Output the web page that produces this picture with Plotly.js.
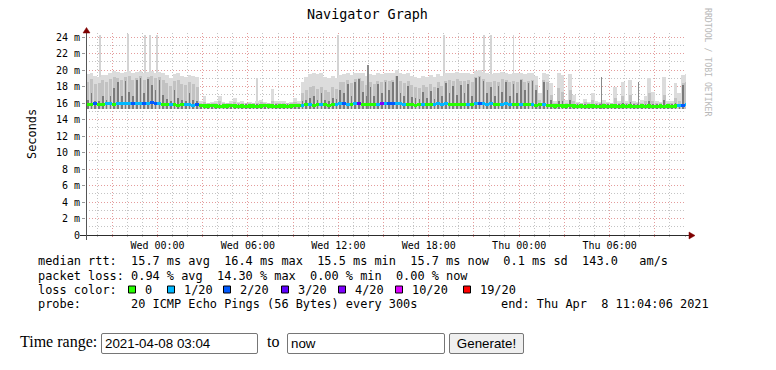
<!DOCTYPE html>
<html><head><meta charset="utf-8">
<script src="https://cdn.plot.ly/plotly-3.0.1.min.js"></script>
<style>
body{margin:0;background:#fff;width:776px;height:370px;overflow:hidden;position:relative;}
#chart{position:absolute;left:0;top:0;width:776px;height:320px;}
.lbl{position:absolute;font-family:"Liberation Serif","Times New Roman",serif;font-size:16px;line-height:21px;color:#000;}
input.t{position:absolute;box-sizing:border-box;height:21px;border:1px solid #767676;border-radius:2px;padding:1px 3px;font-family:"Liberation Sans",Arial,sans-serif;font-size:13.33px;color:#000;background:#fff;margin:0;}
button.g{position:absolute;box-sizing:border-box;height:21px;border:1px solid #767676;border-radius:2px;background:#efefef;font-family:"Liberation Sans",Arial,sans-serif;font-size:13.33px;color:#000;padding:1px 6px;margin:0;}
</style></head>
<body>
<div id="chart"></div>
<div class="lbl" style="left:20px;top:331px;">Time range:</div>
<input class="t" style="left:101px;top:333px;width:157px;" value="2021-04-08 03:04">
<div class="lbl" style="left:267px;top:331px;">to</div>
<input class="t" style="left:287px;top:333px;width:158px;" value="now">
<button class="g" style="left:449px;top:333px;width:75px;">Generate!</button>
<script>
// ---- data (15-minute bins starting Tue 2021-04-06 19:15) ----
const binStart = '2021-04-06 19:15';
const smokeBase = 15.3;
const smokeMax = [
 19.5,19.6,19.3,19.2,19.4,19.4,19.6,19.9,19.8,19.7,19.8,19.9,19.7,19.8,19.9,19.6,19.8,19.9,19.7,19.8,
 19.6,19.4,19.1,19.5,19.6,19.3,19.2,19.4,19.3,19.2,16.2,16.8,16.0,16.1,16.2,16.9,16.1,16.0,16.3,16.6,
 16.1,16.2,16.0,16.1,16.0,16.3,16.4,16.1,16.0,17.7,16.2,16.2,16.2,16.0,16.1,16.6,16.3,18.6,19.2,19.5,
 19.6,19.5,19.6,19.2,19.0,19.3,19.1,19.4,19.5,19.6,19.4,19.6,19.7,19.6,19.3,19.5,19.4,19.6,19.5,19.7,
 19.6,19.7,20.0,19.6,19.5,19.6,19.3,19.2,19.1,19.3,19.2,19.4,19.2,19.5,19.3,19.6,19.7,19.6,19.8,19.7,
 19.6,19.7,19.5,19.9,20.0,19.8,19.6,19.5,19.7,19.6,19.8,19.7,19.5,19.6,19.6,19.7,19.5,19.6,19.7,19.3,
 17.2,19.6,19.5,18.4,16.2,19.6,19.4,16.4,19.5,17.0,16.1,16.0,16.5,16.1,17.2,16.2,16.1,16.4,16.1,16.0,
 18.0,16.2,18.6,16.3,18.8,16.2,16.1,16.4,16.9,19.1,17.4,16.2,16.1,19.2,16.3,16.2,18.4,17.2,19.4,19.5];
const smokeMid = [
 18.6,18.9,18.3,18.4,18.8,18.5,18.9,19.2,19.1,18.8,19.2,19.3,18.8,19.1,19.3,18.8,19.2,19.3,19.0,19.2,
 18.8,18.4,18.1,18.7,18.8,18.3,18.2,18.6,18.3,18.0,15.95,16.1,15.95,15.95,15.95,16.2,15.95,15.95,16.0,16.1,
 15.95,16.0,15.95,15.95,15.95,16.0,16.1,15.95,15.95,16.3,16.0,16.0,16.0,15.95,15.95,16.1,16.0,17.2,17.6,17.9,
 18.1,17.7,18.0,17.6,17.4,17.9,17.7,18.5,18.6,18.8,18.4,18.9,19.0,18.7,18.2,18.5,18.3,18.7,18.5,18.8,
 18.7,18.8,19.3,18.7,18.4,18.7,18.2,18.0,17.8,18.2,18.0,18.3,17.9,18.5,18.1,18.7,18.8,18.7,18.9,18.7,
 18.7,18.8,18.5,19.2,19.3,18.9,18.6,18.5,18.7,18.6,18.9,18.8,18.5,18.7,18.6,18.9,18.5,18.7,18.8,18.2,
 16.4,18.8,18.5,17.0,15.95,17.8,17.4,15.95,17.6,16.2,15.95,15.95,16.1,15.95,16.4,15.95,15.95,16.0,15.95,15.95,
 16.6,15.95,16.8,15.95,17.0,15.95,15.95,16.0,16.2,17.2,16.3,15.95,15.95,17.0,15.95,15.95,16.6,16.2,18.4,18.6];
const smokeDark = [
 16.4,17.2,16.2,16.3,16.8,16.4,16.9,17.8,18.6,16.8,18.7,17.4,16.9,18.8,19.0,17.2,18.9,18.2,17.6,18.8,
 17.0,16.5,16.3,17.6,16.6,16.4,16.3,17.2,16.4,16.2,15.85,15.85,15.85,15.85,15.85,15.85,15.85,15.85,15.85,15.85,
 15.85,15.85,15.85,15.85,15.85,15.85,15.85,15.85,15.85,15.85,15.85,15.85,15.85,15.85,15.85,15.85,15.85,16.2,16.4,16.6,
 16.8,16.4,17.2,16.4,16.3,16.6,16.5,17.6,17.2,18.3,16.9,18.6,18.9,17.4,16.8,17.9,16.9,18.3,17.2,18.5,
 17.6,18.6,19.3,17.2,16.8,18.1,16.7,16.6,16.5,17.3,16.6,17.5,16.5,17.8,16.8,18.4,17.2,18.1,17.0,18.2,
 17.2,18.3,16.9,19.0,19.2,18.7,17.2,17.9,16.9,18.1,17.4,18.5,16.9,18.3,17.2,18.8,17.6,18.4,18.7,17.6,
 16.0,18.5,17.6,16.4,15.85,16.3,16.2,15.85,16.4,15.9,15.85,15.85,15.85,15.85,15.85,15.85,15.85,15.85,15.85,15.85,
 15.9,15.85,16.0,15.85,16.1,15.85,15.85,15.85,15.85,16.2,15.9,15.85,15.85,16.4,15.85,15.85,16.0,15.9,18.2,17.6];
const medianRtt = [
 15.85,15.8,15.9,15.8,15.85,15.9,15.95,15.85,15.9,15.95,15.9,15.95,16.0,15.9,15.95,16.0,15.95,16.05,16.0,15.9,
 15.85,15.8,15.85,15.8,15.75,15.8,15.85,15.8,15.75,15.8,15.7,15.65,15.65,15.7,15.65,15.6,15.65,15.65,15.7,15.65,
 15.6,15.65,15.6,15.65,15.65,15.6,15.65,15.7,15.65,15.65,15.6,15.65,15.65,15.6,15.65,15.7,15.7,15.75,15.8,15.8,
 15.75,15.8,15.85,15.8,15.75,15.8,15.85,15.9,15.95,15.85,15.8,15.9,16.0,15.85,15.8,15.85,15.8,15.85,15.95,15.9,
 16.0,16.0,15.9,15.9,15.85,15.8,15.8,15.75,15.8,15.85,15.8,15.8,15.85,15.9,15.85,15.9,15.8,15.8,15.85,15.8,
 15.8,15.85,15.8,15.9,15.95,15.9,15.85,15.9,15.8,15.8,15.85,15.9,15.85,15.8,15.8,15.85,15.8,15.8,15.85,15.75,
 15.8,15.85,15.75,15.7,15.65,15.7,15.65,15.65,15.7,15.65,15.6,15.65,15.6,15.65,15.65,15.6,15.6,15.65,15.6,15.65,
 15.65,15.6,15.65,15.6,15.65,15.6,15.6,15.65,15.6,15.65,15.6,15.6,15.65,15.6,15.65,15.6,15.65,15.7,15.75,15.8];
// loss class per bin: index into lossLabels/lossColors
const lossClass = [
 0,0,2,0,0,1,1,0,1,1,1,1,2,1,1,2,1,2,2,1,
 0,0,1,0,0,0,1,1,1,2,0,0,0,0,0,0,0,0,0,0,
 0,0,0,0,0,0,0,0,0,0,0,0,0,0,0,0,0,1,0,1,
 0,0,1,0,0,0,1,1,2,1,0,1,3,0,0,0,0,1,4,1,
 2,2,1,1,1,0,0,0,0,1,0,0,1,1,1,1,0,0,0,0,
 0,1,0,1,2,1,1,1,0,0,1,1,1,0,0,1,0,0,1,0,
 0,1,0,0,0,0,0,0,0,0,0,0,0,0,0,0,0,0,0,0,
 0,0,0,0,0,0,0,0,0,0,0,0,0,0,0,0,0,1,2,1];
// isolated outlier spikes
const lightSpikeTimes = ['2021-04-06 20:11','2021-04-06 22:03','2021-04-06 23:10','2021-04-06 23:30','2021-04-06 23:58',
  '2021-04-07 06:36','2021-04-07 11:58','2021-04-07 19:00','2021-04-07 21:41','2021-04-07 22:09','2021-04-07 23:37'];
const lightSpikeTops = [24.2,24.4,24.2,24.2,24.3,19.0,24.3,24.2,24.3,24.3,24.2];
const darkSpikeTimes = ['2021-04-07 13:58','2021-04-08 05:27','2021-04-08 07:54'];
const darkSpikeTops = [20.6,19.2,18.6];

const lossLabels = ['0','1/20','2/20','3/20','4/20','10/20','19/20'];
const lossColors = ['#26ff00','#00b8ff','#0059ff','#5e00ff','#7e00ff','#dd00ff','#ff0000'];

const yTickVals = [0,2,4,6,8,10,12,14,16,18,20,22,24];
const yTickLabels = ['0','2 m','4 m','6 m','8 m','10 m','12 m','14 m','16 m','18 m','20 m','22 m','24 m'];
const xLabelTimes = ['2021-04-07 00:00','2021-04-07 06:00','2021-04-07 12:00','2021-04-07 18:00','2021-04-08 00:00','2021-04-08 06:00'];
const xLabels = ['Wed 00:00','Wed 06:00','Wed 12:00','Wed 18:00','Thu 00:00','Thu 06:00'];
const xRange = ['2021-04-06 19:15:30','2021-04-08 11:04'];

const statLines = [
 'median rtt:  15.7 ms avg  16.4 ms max  15.5 ms min  15.7 ms now  0.1 ms sd  143.0   am/s',
 'packet loss: 0.94 % avg  14.30 % max  0.00 % min  0.00 % now'];
const lossTitle = 'loss color:';
const probeLine = 'probe:       20 ICMP Echo Pings (56 Bytes) every 300s';
const endLine = 'end: Thu Apr  8 11:04:06 2021';

// ---- build ----
const toStr = ms => new Date(ms).toISOString().slice(0,19).replace('T',' ');
const t0 = Date.parse(binStart.replace(' ','T')+':00Z');
const BIN = 15*60*1000;
const binTimes = smokeMax.map((_,i)=>toStr(t0 + (i+0.5)*BIN));

// 3-hourly major ticks, labels every 6 h
const tickVals=[], tickText=[];
for(let ms=Date.parse('2021-04-06T21:00:00Z'); ms<=Date.parse('2021-04-08T11:00:00Z'); ms+=3*3600000){
  const s = toStr(ms).slice(0,16);
  tickVals.push(s);
  const k = xLabelTimes.indexOf(s);
  tickText.push(k>=0 ? xLabels[k] : '');
}

const L=86,R=686,T=33,B=235;
const px2x = p => (p-L)/(R-L);
const py2y = p => (B-p)/(B-T);
const nb = s => s.replace(/ /g,'\u00a0');
const MONO = 'DejaVu Sans Mono, monospace';

const hgt = (arr)=>arr.map(v=>v-smokeBase);
const traces = [
 {type:'bar',x:lightSpikeTimes,y:hgt(lightSpikeTops),base:smokeBase,width:420000,marker:{color:'#d4d4d4',line:{width:0}},hoverinfo:'skip'},
 {type:'bar',x:binTimes,y:hgt(smokeMax),base:smokeBase,width:BIN,marker:{color:'#dcdcdc',line:{width:0}},hoverinfo:'skip'},
 {type:'bar',x:binTimes,y:hgt(smokeMid),base:smokeBase,width:BIN*0.8,marker:{color:'#c2c2c2',line:{width:0}},hoverinfo:'skip'},
 {type:'bar',x:binTimes,y:hgt(smokeDark),base:smokeBase,width:BIN*0.45,marker:{color:'#7a7a7a',line:{width:0}},hoverinfo:'skip'},
 {type:'bar',x:darkSpikeTimes,y:hgt(darkSpikeTops),base:smokeBase,width:300000,marker:{color:'#8a8a8a',line:{width:0}},hoverinfo:'skip'},
 {type:'bar',x:binTimes,y:medianRtt.map(()=>0.38),base:medianRtt.map(v=>v-0.19),width:BIN,
  marker:{color:lossClass.map(k=>lossColors[k]),line:{width:0}},hoverinfo:'skip'}
];

const annotations = [
 {text:'Navigator Graph',x:px2x(367.5),y:py2y(15),font:{family:MONO,size:13.4,color:'#000'}},
 {text:'Seconds',x:px2x(32),y:py2y(134),textangle:-90,font:{family:MONO,size:11.9,color:'#000'}},
 {text:'RRDTOOL / TOBI OETIKER',x:px2x(708),y:py2y(62),textangle:90,font:{family:MONO,size:8.2,color:'#b8b8b8'}},
 {text:nb(statLines[0]),x:px2x(36),y:py2y(261),xanchor:'left',font:{family:MONO,size:11.9,color:'#000'}},
 {text:nb(statLines[1]),x:px2x(36),y:py2y(275.5),xanchor:'left',font:{family:MONO,size:11.9,color:'#000'}},
 {text:nb(lossTitle),x:px2x(36),y:py2y(289.5),xanchor:'left',font:{family:MONO,size:11.9,color:'#000'}},
 {text:nb(probeLine),x:px2x(36),y:py2y(303.5),xanchor:'left',font:{family:MONO,size:11.9,color:'#000'}},
 {text:nb(endLine),x:px2x(499),y:py2y(303.5),xanchor:'left',font:{family:MONO,size:11.9,color:'#000'}}
].map(a=>Object.assign({xref:'paper',yref:'paper',showarrow:false,xanchor:'center',yanchor:'middle'},a));

const boxLeft = [128,167,223,281,338,395,463];
const shapes = [];
lossLabels.forEach((lab,i)=>{
  shapes.push({type:'rect',xref:'paper',yref:'paper',x0:px2x(boxLeft[i]+0.5),x1:px2x(boxLeft[i]+7.5),
    y0:py2y(293),y1:py2y(286),fillcolor:lossColors[i],line:{color:'#000',width:1}});
  annotations.push({xref:'paper',yref:'paper',showarrow:false,xanchor:'left',yanchor:'middle',
    text:lab,x:px2x(boxLeft[i]+14.5),y:py2y(289.5),font:{family:MONO,size:11.9,color:'#000'}});
});
// axes with arrows
shapes.push({type:'line',xref:'paper',yref:'paper',x0:px2x(80),x1:px2x(690),y0:py2y(235.5),y1:py2y(235.5),line:{color:'#2c2c2c',width:1}});
shapes.push({type:'line',xref:'paper',yref:'paper',x0:px2x(86.5),x1:px2x(86.5),y0:py2y(240),y1:py2y(31),line:{color:'#555',width:1}});
shapes.push({type:'path',xref:'paper',yref:'paper',
  path:`M ${px2x(86.5)},${py2y(27.5)} L ${px2x(83)},${py2y(33)} L ${px2x(90)},${py2y(33)} Z`,
  fillcolor:'#7f0000',line:{color:'#7f0000',width:0.5}});
shapes.push({type:'path',xref:'paper',yref:'paper',
  path:`M ${px2x(695)},${py2y(235.5)} L ${px2x(689)},${py2y(232)} L ${px2x(689)},${py2y(239)} Z`,
  fillcolor:'#7f0000',line:{color:'#7f0000',width:0.5}});

const layout = {
 width:776,height:320,margin:{l:L,r:776-R,t:T,b:320-B,pad:0},
 paper_bgcolor:'#fff',plot_bgcolor:'#fff',showlegend:false,barmode:'overlay',bargap:0,hovermode:false,
 font:{family:MONO,color:'#000'},
 xaxis:{type:'date',range:xRange,tickmode:'array',tickvals:tickVals,ticktext:tickText,
   showgrid:true,gridcolor:'#e49c9c',griddash:'1px,2px',gridwidth:1,zeroline:false,showline:false,
   ticks:'outside',ticklen:1,tickcolor:'#d88',tickfont:{family:MONO,size:10,color:'#000'},
   minor:{tickmode:'linear',tick0:'2021-04-07 00:00',dtick:3600000,showgrid:true,gridcolor:'#c4c4c4',griddash:'1px,2px',gridwidth:1,ticks:'outside',ticklen:1,tickcolor:'#bbb'},
   fixedrange:true},
 yaxis:{range:[0,24.5],tickmode:'array',tickvals:yTickVals,ticktext:yTickLabels,
   showgrid:true,gridcolor:'#e49c9c',griddash:'1px,2px',gridwidth:1,zeroline:false,showline:false,
   ticks:'outside',ticklen:3,tickcolor:'#999',tickfont:{family:MONO,size:10,color:'#000'},
   minor:{tickmode:'linear',tick0:0,dtick:1,showgrid:true,gridcolor:'#c4c4c4',griddash:'1px,2px',gridwidth:1},
   fixedrange:true},
 annotations:annotations,shapes:shapes
};
Plotly.newPlot('chart',traces,layout,{staticPlot:true,displayModeBar:false});
</script>
</body></html>
